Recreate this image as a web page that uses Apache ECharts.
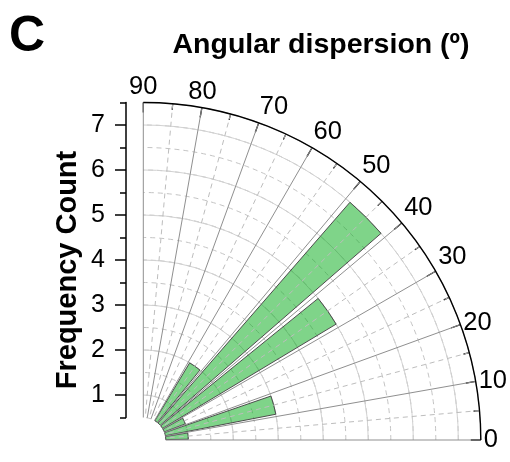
<!DOCTYPE html>
<html>
<head>
<meta charset="utf-8">
<script src="https://cdn.jsdelivr.net/npm/echarts@6/dist/echarts.min.js"></script>
<style>html,body{margin:0;padding:0;background:#fff}#c{width:510px;height:462px}</style>
</head>
<body>
<div id="c"></div>
<script>
// ---- data ----
const bins = ['0-10', '10-20', '20-30', '30-40', '40-50', '50-60', '60-70', '70-80', '80-90'];
const counts = [1, 3, 1, 5, 7, 2, 0, 0, 0];
const countTicks = [1, 2, 3, 4, 5, 6, 7];
const halfTicks = [0.5, 1.5, 2.5, 3.5, 4.5, 5.5, 6.5, 7.5];
const angleMin = 0, angleMax = 90, angleStep = 10;
const midAlignedAngles = [20];
const countMin = 0.5, countMax = 7.5;
const panelLabel = 'C';
const titleText = 'Angular dispersion (º)';
const yTitle = 'Frequency Count';

const FONT = '"Liberation Sans", Arial, Helvetica, sans-serif';
const CX = 143.3, CY = 440, R0 = 22.5, R1 = 337.5;
const LABEL_SIZE = 25.5;

const chart = echarts.init(document.getElementById('c'), null, {renderer: 'canvas'});

const hiddenAngle = (idx, extra) => Object.assign({
  polarIndex: idx, startAngle: 0, endAngle: 90, clockwise: false,
  axisLine: {show: false}, axisTick: {show: false}, axisLabel: {show: false},
  splitLine: {show: false}
}, extra);
const hiddenRadius = (idx, extra, split) => Object.assign({
  polarIndex: idx, type: 'value',
  axisLine: {show: false}, axisTick: {show: false}, axisLabel: {show: false},
  splitLine: split || {show: false}
}, extra);

chart.setOption({
  animation: false,
  backgroundColor: '#fff',
  polar: [
    {center: [CX, CY], radius: [R0, R1]},
    {center: [CX, CY], radius: [0, R1]},
    {center: [CX, CY], radius: [R0, R1]},
    {center: [CX, CY], radius: [0, R1]}
  ],
  angleAxis: [
    {
      polarIndex: 0, type: 'value', min: angleMin, max: angleMax, interval: angleStep,
      startAngle: 0, endAngle: 90, clockwise: false, z: 3,
      axisLine: {show: false},
      axisTick: {show: true, inside: true, length: 10, lineStyle: {color: '#000', width: 1.3}},
      minorTick: {show: true, splitNumber: 2, length: 6, lineStyle: {color: '#000', width: 1.2}},
      axisLabel: {
        show: true, fontSize: LABEL_SIZE, color: '#000', fontFamily: FONT, margin: 3,
        formatter: v => (midAlignedAngles.indexOf(v) >= 0 ? '{m|' + v + '}' : String(v)),
        rich: {m: {fontSize: LABEL_SIZE, fontFamily: FONT, color: '#000', lineHeight: 2}}
      },
      splitLine: {show: true, lineStyle: {color: '#8f8f8f', width: 1}},
      minorSplitLine: {show: true, lineStyle: {color: '#bdbdbd', width: 1, type: [5, 4]}}
    },
    hiddenAngle(1, {type: 'value', min: angleMin, max: angleMax}),
    hiddenAngle(2, {type: 'category', data: bins, boundaryGap: true}),
    hiddenAngle(3, {type: 'value', min: angleMin, max: angleMax})
  ],
  radiusAxis: [
    hiddenRadius(0, {min: countMin, max: countMax, interval: 0.5, z: 0},
      {show: true, lineStyle: {color: '#c4c4c4', width: 1, type: [5, 4]}}),
    hiddenRadius(1, {min: 0, max: countMax, interval: 1, z: 1},
      {show: true, lineStyle: {color: '#d2d2d2', width: 1}}),
    hiddenRadius(2, {min: countMin, max: countMax}),
    hiddenRadius(3, {min: 0, max: countMax, interval: countMax, z: 4},
      {show: true, lineStyle: {color: '#000', width: 1.4}})
  ],
  grid: {left: 126, top: CY - countMax * 45, height: (countMax - countMin) * 45, width: 10},
  xAxis: {type: 'value', show: false, gridIndex: 0},
  yAxis: [
    {
      type: 'value', gridIndex: 0, min: countMin, max: countMax, position: 'left',
      axisLine: {show: true, lineStyle: {color: '#000', width: 1.5}},
      axisTick: {show: true, length: 11, customValues: countTicks, lineStyle: {color: '#000', width: 1.5}},
      axisLabel: {show: true, customValues: countTicks, fontSize: 25, color: '#000', fontFamily: FONT, margin: 21},
      splitLine: {show: false}
    },
    {
      type: 'value', gridIndex: 0, min: countMin, max: countMax, position: 'left',
      axisLine: {show: false},
      axisTick: {show: true, length: 6, customValues: halfTicks, lineStyle: {color: '#000', width: 1.5}},
      axisLabel: {show: false},
      splitLine: {show: false}
    }
  ],
  series: [{
    type: 'bar', coordinateSystem: 'polar', polarIndex: 2,
    data: counts.map(v => (v > 0 ? v : '-')),
    barCategoryGap: '20%', z: 2,
    itemStyle: {color: 'rgba(0,170,20,0.5)', borderColor: '#4d4d4d', borderWidth: 1}
  }],
  graphic: [
    {type: 'text', x: 27, y: 37, style: {text: panelLabel, fontSize: 50, fontWeight: 'bold', fontFamily: FONT, fill: '#000', align: 'center', verticalAlign: 'middle'}},
    {type: 'text', x: 321, y: 45, style: {text: titleText, fontSize: 28.5, fontWeight: 'bold', fontFamily: FONT, fill: '#000', align: 'center', verticalAlign: 'middle'}},
    {type: 'text', x: 68, y: 270, rotation: Math.PI / 2, style: {text: yTitle, fontSize: 29, fontWeight: 'bold', fontFamily: FONT, fill: '#000', align: 'center', verticalAlign: 'middle'}}
  ]
});
</script>
</body>
</html>
